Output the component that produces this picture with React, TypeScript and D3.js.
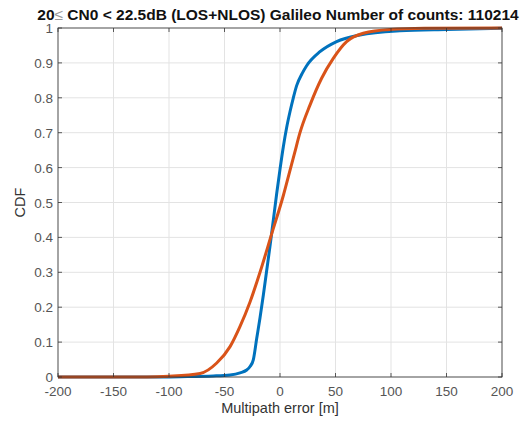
import React from "react";
import * as d3 from "d3";

const TITLE_PRE = "20";
const TITLE_SYM = "≤";
const TITLE_POST = " CN0 < 22.5dB (LOS+NLOS) Galileo Number of counts: 110214";
const X_LABEL = "Multipath error [m]";
const Y_LABEL = "CDF";
const xTicks = [-200, -150, -100, -50, 0, 50, 100, 150, 200];
const yTicks = [0, 0.1, 0.2, 0.3, 0.4, 0.5, 0.6, 0.7, 0.8, 0.9, 1];

const blueX = [-200, -120, -90, -60, -45, -36, -30, -27, -24, -21, -18, -15, -12, -9, -6, -3, 0, 3, 6, 9, 12, 15, 20, 24, 36, 51, 72, 108, 150, 200];
const blueY = [0, 0, 0.001, 0.003, 0.006, 0.012, 0.02, 0.03, 0.05, 0.11, 0.17, 0.235, 0.305, 0.375, 0.45, 0.525, 0.595, 0.66, 0.715, 0.76, 0.80, 0.835, 0.87, 0.892, 0.932, 0.961, 0.98, 0.992, 0.996, 0.999];
const orangeX = [-200, -120, -100, -72, -57, -45, -36, -27, -18, -7.5, 3, 8, 13, 18, 27, 37.5, 48, 60, 75, 99, 130, 200];
const orangeY = [0, 0.0, 0.002, 0.01, 0.04, 0.087, 0.145, 0.215, 0.30, 0.41, 0.52, 0.58, 0.64, 0.70, 0.779, 0.856, 0.913, 0.961, 0.985, 0.996, 0.999, 1];

const W = 520, H = 421;
const L = 58, R = 502, T = 28, B = 377;

export default function App() {
  const x = d3.scaleLinear().domain([-200, 200]).range([L, R]);
  const y = d3.scaleLinear().domain([0, 1]).range([B, T]);
  const line = d3.line<[number, number]>().x(d => x(d[0])).y(d => y(d[1])).curve(d3.curveMonotoneX);
  const blue = blueX.map((v, i) => [v, blueY[i]] as [number, number]);
  const orange = orangeX.map((v, i) => [v, orangeY[i]] as [number, number]);
  const font = "'Liberation Sans', Arial, sans-serif";
  return (
    <svg width={W} height={H} style={{ position: "absolute", left: 0, top: 0, background: "#fff" }} fontFamily={font}>
      <rect x={0} y={0} width={W} height={H} fill="#fff" />
      {xTicks.map(t => (
        <line key={"gx" + t} x1={x(t)} x2={x(t)} y1={T} y2={B} stroke="#e3e3e3" strokeWidth={1} />
      ))}
      {yTicks.map(t => (
        <line key={"gy" + t} x1={L} x2={R} y1={y(t)} y2={y(t)} stroke="#e3e3e3" strokeWidth={1} />
      ))}
      <path d={line(blue) || ""} fill="none" stroke="#0072BD" strokeWidth={3} />
      <path d={line(orange) || ""} fill="none" stroke="#D95319" strokeWidth={3} />
      <rect x={L} y={T} width={R - L} height={B - T} fill="none" stroke="#333" strokeWidth={0.8} />
      {xTicks.map(t => (
        <g key={"tx" + t}>
          <line x1={x(t)} x2={x(t)} y1={B} y2={B - 4} stroke="#333" strokeWidth={0.8} />
          <line x1={x(t)} x2={x(t)} y1={T} y2={T + 4} stroke="#333" strokeWidth={0.8} />
          <text x={x(t)} y={396} textAnchor="middle" fontSize={13.5} fill="#555">{t}</text>
        </g>
      ))}
      {yTicks.map(t => (
        <g key={"ty" + t}>
          <line x1={L} x2={L + 4} y1={y(t)} y2={y(t)} stroke="#333" strokeWidth={0.8} />
          <line x1={R} x2={R - 4} y1={y(t)} y2={y(t)} stroke="#333" strokeWidth={0.8} />
          <text x={L - 5} y={y(t) + 5} textAnchor="end" fontSize={13.5} fill="#555">{String(t)}</text>
        </g>
      ))}
      <text x={(L + R) / 2} y={413} textAnchor="middle" fontSize={14.5} fill="#333">{X_LABEL}</text>
      <text transform={`translate(25,${(T + B) / 2}) rotate(-90)`} textAnchor="middle" fontSize={14.5} fill="#333">{Y_LABEL}</text>
      <text x={278} y={19.5} textAnchor="middle" fontSize={15.5} fontWeight="bold" fill="#111">
        {TITLE_PRE}<tspan fontWeight="normal" fill="#999">{TITLE_SYM}</tspan>{TITLE_POST}
      </text>
    </svg>
  );
}
